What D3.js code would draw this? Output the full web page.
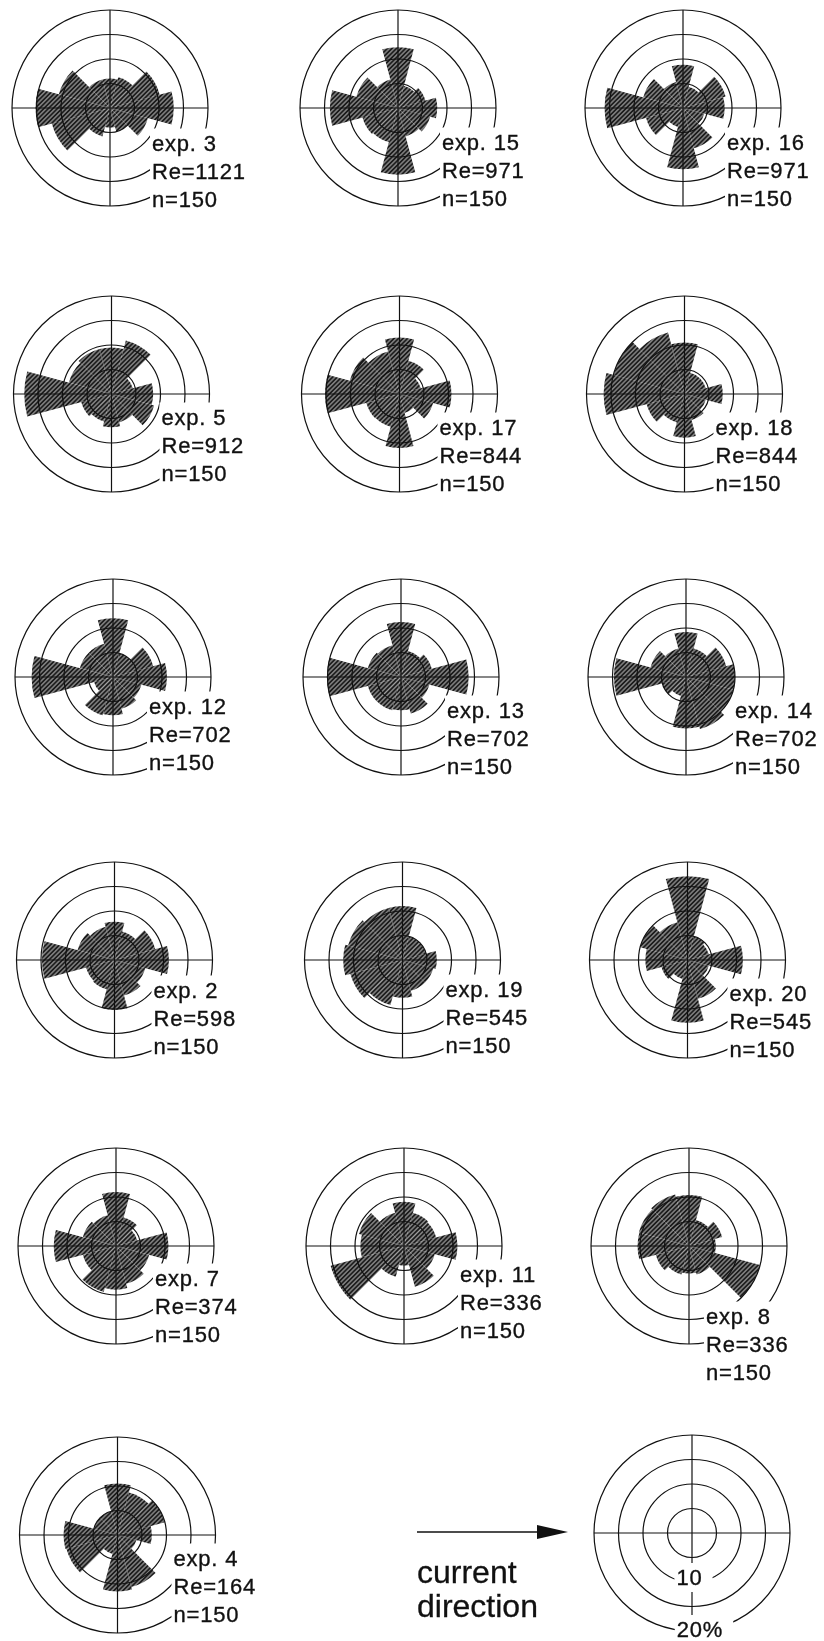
<!DOCTYPE html>
<html>
<head>
<meta charset="utf-8">
<script src="https://cdn.jsdelivr.net/npm/d3@7"></script>
<style>
  body { margin: 0; background: #fff; }
  svg { display: block; }
  text { font-family: "Liberation Sans", Arial, Helvetica, sans-serif; fill: #111; }
</style>
</head>
<body>
<svg id="chart" width="824" height="1641"></svg>
<script>
// Orientation of particles: 30° sectors, centred on N, 30°, 60°, ... clockwise (N = up, current flows to the right)
const binCentres = [0, 30, 60, 90, 120, 150, 180, 210, 240, 270, 300, 330];
const ringLevels = [5, 10, 15, 20];          // percent
const legendLabels = ["10", "20%"];

const experiments = ["exp. 3", "exp. 15", "exp. 16",
                     "exp. 5", "exp. 17", "exp. 18",
                     "exp. 12", "exp. 13", "exp. 14",
                     "exp. 2", "exp. 19", "exp. 20",
                     "exp. 7", "exp. 11", "exp. 8",
                     "exp. 4"];
const reynolds = [1121, 971, 971, 912, 844, 844, 702, 702, 702, 598, 545, 545, 374, 336, 336, 164];
const sampleSizes = [150, 150, 150, 150, 150, 150, 150, 150, 150, 150, 150, 150, 150, 150, 150, 150];

// percentage of particles per sector, same order as binCentres
const exp3  = [6.0, 6.5, 10.5, 13.0, 8.0, 5.0, 4.0, 6.0, 12.3, 15.2, 10.8, 6.0];
const exp15 = [12.4, 4.7, 5.8, 8.0, 6.8, 6.0, 13.6, 7.2, 7.5, 13.9, 8.8, 6.0];
const exp16 = [8.8, 4.5, 9.0, 8.5, 4.5, 8.5, 12.5, 4.0, 7.8, 16.0, 8.4, 5.5];
const exp5  = [9.5, 11.3, 4.5, 8.5, 9.0, 6.0, 6.8, 5.8, 6.4, 17.8, 9.0, 9.5];
const exp17 = [11.5, 7.0, 4.5, 10.6, 7.1, 4.0, 11.0, 6.9, 7.0, 15.2, 10.5, 9.0];
const exp18 = [10.5, 4.5, 4.5, 7.8, 4.5, 5.5, 8.9, 6.0, 8.0, 16.5, 15.0, 13.0];
const exp12 = [12.0, 5.0, 8.5, 11.0, 6.0, 6.7, 7.8, 8.1, 4.0, 16.6, 7.0, 7.0];
const exp13 = [11.2, 5.5, 6.5, 13.8, 6.0, 7.7, 6.8, 7.0, 7.0, 15.1, 7.0, 6.7];
const exp14 = [9.2, 6.0, 8.5, 10.0, 10.0, 11.0, 10.5, 4.0, 5.0, 14.7, 7.5, 6.0];
const exp2  = [7.8, 6.0, 8.6, 11.1, 6.5, 7.5, 10.2, 6.2, 6.0, 14.8, 7.8, 7.0];
const exp19 = [11.0, 5.0, 5.0, 7.0, 6.5, 6.5, 7.7, 9.5, 11.0, 12.1, 11.5, 11.0];
const exp20 = [17.1, 5.0, 4.5, 11.3, 4.5, 8.2, 12.8, 4.0, 5.5, 8.6, 10.0, 8.0];
const exp7  = [11.0, 6.0, 4.5, 10.7, 7.0, 8.0, 8.9, 9.7, 7.0, 12.7, 7.0, 6.5];
const exp11 = [9.0, 7.0, 6.8, 10.9, 6.5, 8.6, 4.0, 6.5, 15.5, 8.9, 9.5, 7.0];
const exp8  = [10.4, 5.5, 7.0, 5.5, 15.0, 6.0, 5.6, 6.0, 7.0, 10.5, 10.6, 10.9];
const exp4  = [10.5, 9.0, 10.0, 7.0, 4.0, 11.0, 11.5, 4.0, 10.8, 11.0, 5.0, 5.0];

const sectors = [exp3, exp15, exp16, exp5, exp17, exp18, exp12, exp13, exp14,
                 exp2, exp19, exp20, exp7, exp11, exp8, exp4];

// ---- layout ----
const W = 824, H = 1641;
const colX = [110, 398, 683];
const rowY = [108, 394, 677, 960, 1246, 1535];
const driftX = 1.5;                 // columns lean slightly right going down
const outerR = 98;                  // radius of the 20 % ring
const lineStep = 28;
// left edge / first-line offset of each label block relative to the rose centre
const labelOffset = [[42, 35], [44, 34], [44, 34],
                     [50, 23], [40, 33], [31, 33],
                     [36, 29], [46, 33], [49, 33],
                     [39, 30], [43, 29], [42, 33],
                     [39, 32], [56, 28], [17, 70],
                     [56, 23]];
const legendCentre = [692, 1533];

const r = d3.scaleLinear().domain([0, 20]).range([0, outerR]);
const arc = d3.arc();
const rad = d => d * Math.PI / 180;

const svg = d3.select("#chart");
const defs = svg.append("defs");

// dark hatched fill of the sectors
const pat = defs.append("pattern")
  .attr("id", "hatch").attr("patternUnits", "userSpaceOnUse")
  .attr("width", 3.2).attr("height", 3.2)
  .attr("patternTransform", "rotate(45)");
pat.append("rect").attr("width", 3.2).attr("height", 3.2).attr("fill", "#b4b4b4");
pat.append("line").attr("x1", 1.6).attr("y1", 0).attr("x2", 1.6).attr("y2", 3.2)
  .attr("stroke", "#1c1c1c").attr("stroke-width", 2.2);

// rings and axes are interrupted wherever a label sits
const mask = defs.append("mask").attr("id", "labelGap")
  .attr("maskUnits", "userSpaceOnUse")
  .attr("x", 0).attr("y", 0).attr("width", W).attr("height", H);
mask.append("rect").attr("width", W).attr("height", H).attr("fill", "#fff");

svg.append("rect").attr("width", W).attr("height", H).attr("fill", "#fff");
const petalLayer = svg.append("g");
const gridLayer = svg.append("g").attr("mask", "url(#labelGap)");
const textLayer = svg.append("g");

function drawGrid(cx, cy) {
  const g = gridLayer.append("g").attr("transform", `translate(${cx},${cy})`);
  g.selectAll("circle").data(ringLevels).join("circle")
    .attr("r", d => r(d)).attr("fill", "none")
    .attr("stroke", "#111").attr("stroke-width", 1.2);
  g.append("line").attr("x1", -r(20)).attr("x2", r(20)).attr("y1", 0).attr("y2", 0)
    .attr("stroke", "#111").attr("stroke-width", 1.2);
  g.append("line").attr("y1", -r(20)).attr("y2", r(20)).attr("x1", 0).attr("x2", 0)
    .attr("stroke", "#111").attr("stroke-width", 1.2);
}

const labelStyle = sel => sel.attr("font-size", 22).attr("letter-spacing", 0.8)
  .attr("stroke", "#111").attr("stroke-width", 0.35);

sectors.forEach((vals, i) => {
  const row = Math.floor(i / 3), col = i % 3;
  const cx = colX[col] + driftX * row, cy = rowY[row];

  petalLayer.append("g").attr("transform", `translate(${cx},${cy})`)
    .selectAll("path")
    .data(vals.map((v, k) => ({ v, a: binCentres[k] })))
    .join("path")
    .attr("d", d => arc({ innerRadius: 0, outerRadius: r(d.v),
                          startAngle: rad(d.a - 15), endAngle: rad(d.a + 15) }))
    .attr("fill", "url(#hatch)");

  drawGrid(cx, cy);

  const [dx, dy] = labelOffset[i];
  const lines = [experiments[i], `Re=${reynolds[i]}`, `n=${sampleSizes[i]}`];
  textLayer.append("g").selectAll("text").data(lines).join("text")
    .attr("x", cx + dx)
    .attr("y", (d, k) => cy + dy + k * lineStep + 7.5)
    .call(labelStyle)
    .text(d => d);
});

// ---- scale rose ----
const [lx, ly] = legendCentre;
drawGrid(lx, ly);
textLayer.append("text").attr("x", lx - 2.5).attr("y", ly + 52)
  .attr("text-anchor", "middle").call(labelStyle).text(legendLabels[0]);
textLayer.append("text").attr("x", lx + 8).attr("y", ly + 104)
  .attr("text-anchor", "middle").call(labelStyle).text(legendLabels[1]);

// ---- current direction arrow ----
const arrowY = 1532;
svg.append("line").attr("x1", 417).attr("x2", 540).attr("y1", arrowY).attr("y2", arrowY)
  .attr("stroke", "#111").attr("stroke-width", 1.3);
svg.append("path")
  .attr("d", `M537,${arrowY - 7}L568,${arrowY}L537,${arrowY + 7}Z`)
  .attr("fill", "#111");
textLayer.append("text").attr("x", 417).attr("y", 1583).attr("font-size", 32)
  .attr("stroke", "#111").attr("stroke-width", 0.3).text("current");
textLayer.append("text").attr("x", 417).attr("y", 1617).attr("font-size", 32)
  .attr("stroke", "#111").attr("stroke-width", 0.3).text("direction");

// knock the grid out behind every label
textLayer.selectAll("text").each(function () {
  const b = this.getBBox();
  const extra = legendLabels.includes(this.textContent) ? 8 : 0;
  mask.append("rect")
    .attr("x", b.x - 2).attr("y", b.y - 2)
    .attr("width", b.width + 4 + extra).attr("height", b.height + 4)
    .attr("fill", "#000");
});
</script>
</body>
</html>
